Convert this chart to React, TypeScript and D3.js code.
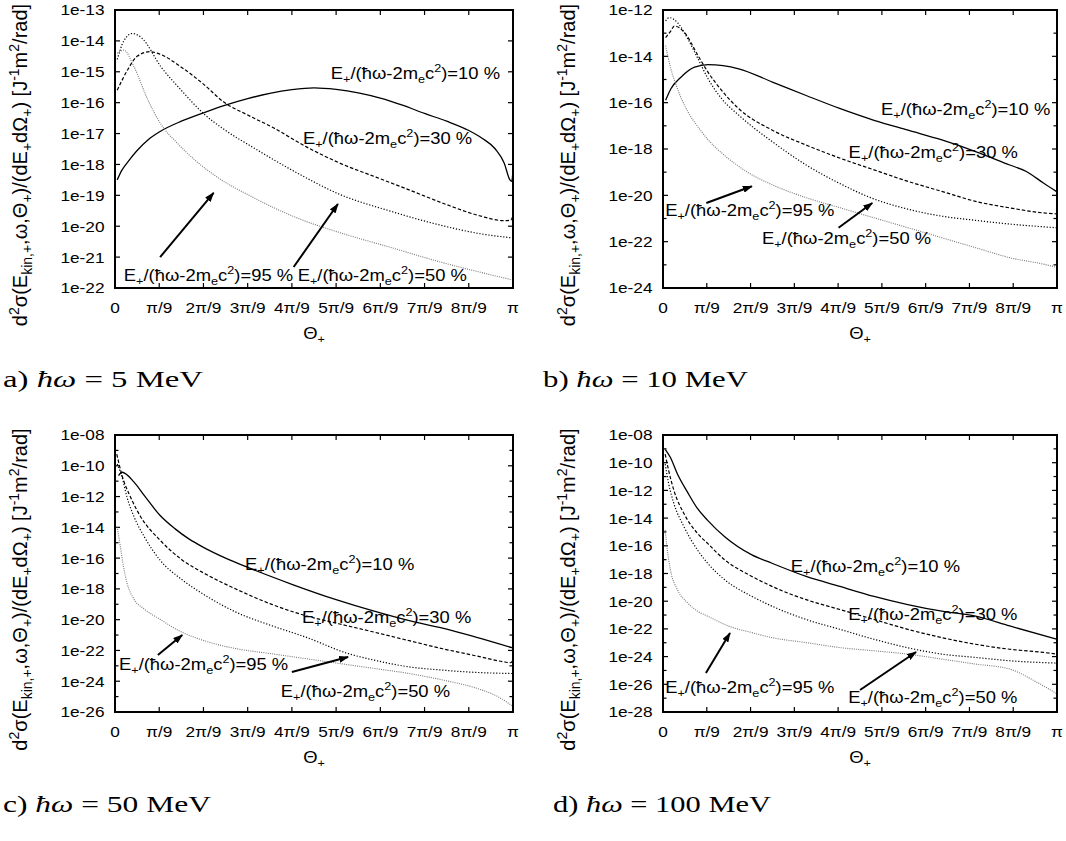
import React from "react";
import * as d3 from "d3";

type Pt = [number, number];

// ---------- data ----------
const THETA_TICK_LABELS = ["0", "π/9", "2π/9", "3π/9", "4π/9", "5π/9", "6π/9", "7π/9", "8π/9", "π"];
const SHARE_LABELS = ["10 %", "30 %", "50 %", "95 %"];
const PANEL_TAGS = ["a)", "b)", "c)", "d)"];
const PHOTON_ENERGIES = ["5", "10", "50", "100"];
const Y_EXP_RANGES: Pt[] = [[-22, -13], [-24, -12], [-26, -8], [-28, -8]];
const Y_LABEL_STEPS = [1, 2, 2, 2];

// [Θ in units of π/9, log10 d²σ]
// a) ħω = 5 MeV
const a10: Pt[] = [[0.05, -18.5], [0.15, -18.2], [0.3, -17.9], [0.5, -17.55], [0.75, -17.2], [1, -16.95], [1.5, -16.6], [2, -16.33], [2.5, -16.08], [3, -15.87], [3.5, -15.7], [4, -15.58], [4.5, -15.52], [5, -15.57], [5.5, -15.68], [6, -15.85], [6.5, -16.08], [7, -16.35], [7.5, -16.6], [8, -16.9], [8.3, -17.15], [8.6, -17.5], [8.8, -17.95], [8.93, -18.5], [8.97, -18.55], [9, -18.2]];
const a30: Pt[] = [[0.05, -15.6], [0.3, -14.9], [0.5, -14.5], [0.78, -14.35], [1, -14.42], [1.5, -14.85], [2, -15.4], [2.46, -15.98], [3, -16.4], [3.55, -16.79], [4.34, -17.44], [5.12, -17.98], [5.9, -18.41], [6.68, -18.84], [7.46, -19.28], [8.24, -19.66], [8.79, -19.82], [8.95, -19.8], [9, -19.65]];
const a50: Pt[] = [[0.05, -14.6], [0.2, -14.0], [0.39, -13.76], [0.6, -13.9], [1.04, -14.84], [1.5, -15.6], [2, -16.35], [2.5, -16.9], [3.11, -17.44], [4.15, -18.3], [5.05, -18.95], [6.2, -19.5], [7.26, -19.93], [8.29, -20.25], [9, -20.38]];
const a95: Pt[] = [[0.05, -14.4], [0.2, -14.3], [0.43, -14.84], [0.74, -15.9], [1.04, -16.7], [1.4, -17.3], [1.8, -17.85], [2.3, -18.4], [3.1, -19.05], [4.15, -19.75], [5.18, -20.25], [6.22, -20.68], [7.26, -21.12], [8.29, -21.5], [9, -21.74]];

// b) ħω = 10 MeV
const b10: Pt[] = [[0.06, -15.9], [0.18, -15.4], [0.41, -14.9], [0.72, -14.47], [1.03, -14.36], [1.73, -14.54], [2.5, -15.11], [3.27, -15.69], [4.05, -16.26], [4.82, -16.76], [5.6, -17.19], [6.37, -17.61], [7.14, -18.11], [7.92, -18.69], [8.3, -18.97], [8.69, -19.47], [9, -19.85]];
const b30: Pt[] = [[0.06, -13.19], [0.18, -12.9], [0.26, -12.69], [0.49, -12.97], [0.8, -13.97], [1.03, -14.69], [1.34, -15.47], [1.73, -16.26], [2.5, -17.19], [3.27, -17.83], [4.05, -18.4], [4.82, -18.9], [5.6, -19.4], [6.37, -19.83], [7.14, -20.26], [7.92, -20.54], [8.69, -20.76], [9, -20.8]];
const b50: Pt[] = [[0.06, -12.47], [0.14, -12.33], [0.33, -12.54], [0.57, -13.26], [0.8, -14.11], [1.03, -14.97], [1.34, -15.83], [1.73, -16.54], [2.5, -17.69], [3.27, -18.69], [4.05, -19.5], [4.74, -20.1], [5.6, -20.6], [6.37, -20.9], [7.14, -21.08], [7.92, -21.24], [9, -21.4]];
const b95: Pt[] = [[0.06, -13.54], [0.18, -14.54], [0.33, -15.4], [0.57, -16.4], [0.8, -17.05], [1.03, -17.6], [1.42, -18.3], [1.73, -18.75], [2, -19.08], [2.5, -19.55], [3.27, -20.1], [4.05, -20.54], [4.82, -20.97], [5.6, -21.4], [6.37, -21.83], [7.14, -22.26], [7.92, -22.69], [8.69, -22.97], [9, -23.11]];

// c) ħω = 50 MeV
const c10: Pt[] = [[0.08, -10.64], [0.16, -10.42], [0.43, -11.06], [0.66, -11.92], [1.01, -13.2], [1.36, -14.1], [1.67, -14.75], [2, -15.3], [2.5, -16.0], [3, -16.6], [4, -17.7], [5, -18.7], [5.86, -19.45], [6.63, -20.05], [7.41, -20.55], [8.18, -21.15], [9, -21.84]];
const c30: Pt[] = [[0.04, -9.24], [0.16, -10.64], [0.35, -12.03], [0.58, -13.31], [1.01, -14.81], [1.51, -16.1], [2, -16.96], [2.75, -18.03], [3.53, -18.99], [4.31, -19.74], [5.08, -20.28], [5.86, -20.81], [6.63, -21.35], [7.41, -21.89], [8.18, -22.36], [8.81, -22.75], [8.95, -22.8], [9, -22.6]];
const c50: Pt[] = [[0.05, -9.89], [0.16, -10.74], [0.27, -12.03], [0.43, -13.31], [0.66, -14.6], [1.01, -16.1], [1.51, -17.39], [2, -18.35], [2.75, -19.53], [3.53, -20.38], [4.31, -21.13], [5.28, -22.21], [5.86, -22.63], [6.63, -23.06], [7.41, -23.28], [8.18, -23.43], [9, -23.5]];
const c95: Pt[] = [[0.05, -13.96], [0.12, -15.24], [0.19, -16.53], [0.27, -17.6], [0.43, -18.67], [0.66, -19.31], [1.01, -19.96], [1.51, -20.81], [2, -21.35], [2.75, -21.89], [3.53, -22.21], [4.31, -22.53], [5.08, -22.85], [5.86, -23.17], [6.63, -23.49], [7.41, -23.92], [8.18, -24.46], [8.65, -24.99], [9, -25.63]];

// d) ħω = 100 MeV
const d10: Pt[] = [[0.05, -9.03], [0.17, -9.62], [0.33, -10.82], [0.56, -12.13], [0.79, -13.32], [1.02, -14.16], [1.41, -15.35], [2.03, -16.66], [2.49, -17.26], [3.27, -18.21], [4.04, -18.93], [4.82, -19.65], [5.59, -20.24], [6.37, -20.72], [7.14, -21.08], [7.92, -21.79], [9, -22.75]];
const d30: Pt[] = [[0.05, -9.38], [0.13, -10.58], [0.25, -12.01], [0.48, -13.68], [0.79, -15.11], [1.02, -15.83], [1.41, -17.02], [2.03, -18.21], [2.49, -18.93], [3.27, -19.89], [4.04, -20.6], [4.82, -21.32], [5.59, -22.03], [6.37, -22.63], [7.14, -23.11], [7.92, -23.47], [8.69, -23.7], [9, -23.82]];
const d50: Pt[] = [[0.05, -10.1], [0.13, -11.53], [0.25, -12.96], [0.48, -14.63], [0.79, -16.31], [1.02, -17.26], [1.41, -18.45], [2.03, -19.65], [2.49, -20.36], [3.27, -21.32], [4.04, -22.03], [4.82, -22.75], [5.75, -23.47], [6.37, -23.82], [7.14, -24.06], [7.92, -24.3], [9, -24.47]];
const d95: Pt[] = [[0.05, -14.87], [0.09, -16.07], [0.17, -17.74], [0.33, -19.17], [0.56, -20.12], [0.79, -20.72], [1.02, -21.08], [1.49, -21.79], [2.03, -22.27], [2.49, -22.63], [3.27, -22.99], [4.04, -23.35], [4.82, -23.58], [5.59, -23.82], [6.37, -24.18], [7.14, -24.54], [7.92, -24.9], [8.54, -25.85], [9, -26.69]];

const SERIES = [[a10, a30, a50, a95], [b10, b30, b50, b95], [c10, c30, c50, c95], [d10, d30, d50, d95]];

// label anchors (data coords), order: 10 %, 30 %, 50 %, 95 %
const NOTE_ANCHORS: Pt[][] = [
  [[4.88, -15.23], [4.25, -17.34], [4.13, -21.77], [0.2, -21.77]],
  [[4.98, -16.53], [4.24, -18.39], [2.26, -22.1], [0.05, -20.89]],
  [[2.94, -16.77], [4.23, -20.22], [3.75, -25.02], [0.09, -23.27]],
  [[2.92, -17.89], [4.23, -21.36], [4.23, -27.35], [0.05, -26.63]],
];
// arrows (data coords): [from, to] for 95 % and 50 %
const ARROWS: [Pt, Pt][][] = [
  [[[1.02, -21.0], [2.23, -18.92]], [[4.04, -21.32], [5.04, -19.28]]],
  [[[0.99, -20.33], [2.03, -19.61]], [[4.01, -21.4], [4.78, -20.33]]],
  [[[0.97, -22.3], [1.52, -21.0]], [[4.0, -23.4], [5.27, -22.43]]],
  [[[0.98, -25.18], [1.53, -22.3]], [[4.5, -26.41], [5.78, -23.67]]],
];

// ---------- layout & style ----------
const W = 1066;
const H = 841;
const FRAMES = [
  { l: 115, r: 513, t: 10, b: 288 },
  { l: 663, r: 1057, t: 10, b: 288 },
  { l: 115, r: 513, t: 435, b: 712 },
  { l: 663, r: 1057, t: 435, b: 712 },
];
const CAPTIONS = [
  { x: 3, y: 387, w: 200 },
  { x: 543, y: 387, w: 205 },
  { x: 3, y: 812, w: 208 },
  { x: 553, y: 812, w: 218 },
];
const SANS = "'Liberation Sans', Arial, Helvetica, sans-serif";
const SERIF = "'Liberation Serif', 'Times New Roman', serif";
const STYLES = [
  { dash: undefined, color: "#000", w: 1.3 },
  { dash: "3.5,2", color: "#000", w: 1.2 },
  { dash: "1.2,1.8", color: "#000", w: 1.2 },
  { dash: "1,1.2", color: "#777", w: 1.1 },
];
const SX = 1.15;
const NOTE_SX = 1.15;

function STxt(props: { x: number; y: number; anchor?: string; size?: number; dy?: string; children: React.ReactNode }) {
  const { x, y, anchor = "start", size = 15, dy, children } = props;
  return (
    <g transform={`translate(${x},${y}) scale(${SX},1)`}>
      <text textAnchor={anchor} fontSize={size} dy={dy} fontFamily={SANS} fill="#000">
        {children}
      </text>
    </g>
  );
}

function Note({ x, y, pct }: { x: number; y: number; pct: string }) {
  return (
    <g transform={`translate(${x},${y}) scale(${NOTE_SX},1)`}>
      <text fontSize={16} fontFamily={SANS} fill="#000">
        E<tspan fontSize={11} dy={4}>+</tspan>
        <tspan dy={-4}>/(ħω-2m</tspan>
        <tspan fontSize={11} dy={4}>e</tspan>
        <tspan dy={-4}>c</tspan>
        <tspan fontSize={11} dy={-7}>2</tspan>
        <tspan dy={7}>)={pct}</tspan>
      </text>
    </g>
  );
}

function YLabel({ x, y }: { x: number; y: number }) {
  return (
    <text transform={`translate(${x},${y}) rotate(-90)`} textAnchor="middle" fontSize={20} fontFamily={SANS} fill="#000">
      d<tspan fontSize={14} dy={-8}>2</tspan>
      <tspan dy={8}>σ(E</tspan>
      <tspan fontSize={14} dy={5}>kin,+</tspan>
      <tspan dy={-5}>,ω,Θ</tspan>
      <tspan fontSize={14} dy={5}>+</tspan>
      <tspan dy={-5}>)/(dE</tspan>
      <tspan fontSize={14} dy={5}>+</tspan>
      <tspan dy={-5}>dΩ</tspan>
      <tspan fontSize={14} dy={5}>+</tspan>
      <tspan dy={-5}>) [J</tspan>
      <tspan fontSize={14} dy={-8}>-1</tspan>
      <tspan dy={8}>m</tspan>
      <tspan fontSize={14} dy={-8}>2</tspan>
      <tspan dy={8}>/rad]</tspan>
    </text>
  );
}

function Panel({ idx }: { idx: number }) {
  const f = FRAMES[idx];
  const [e0, e1] = Y_EXP_RANGES[idx];
  const step = Y_LABEL_STEPS[idx];
  const x = d3.scaleLinear().domain([0, Math.PI]).range([f.l, f.r]);
  const y = d3.scaleLog().domain([Math.pow(10, e0), Math.pow(10, e1)]).range([f.b, f.t]);
  const px = (p: Pt) => x((p[0] * Math.PI) / 9);
  const py = (p: Pt) => y(Math.pow(10, p[1]));
  const line = d3.line<Pt>().x(px).y(py).curve(d3.curveMonotoneX);
  const clipId = `clip${idx}`;
  const decades = d3.range(e0, e1 + 1);
  const thetaTicks = d3.range(0, 10);
  const fmt = (e: number) => `1e-${String(-e).padStart(2, "0")}`;
  const cx = (f.l + f.r) / 2;
  const cy = (f.t + f.b) / 2;
  const cap = CAPTIONS[idx];
  return (
    <g>
      <defs>
        <clipPath id={clipId}>
          <rect x={f.l} y={f.t} width={f.r - f.l} height={f.b - f.t} />
        </clipPath>
      </defs>
      {decades.map((e) => {
        const yy = y(Math.pow(10, e));
        const major = (e - e0) % step === 0;
        const len = major ? 5 : 3.5;
        return (
          <g key={`y${e}`}>
            <line x1={f.l} x2={f.l + len} y1={yy} y2={yy} stroke="#000" strokeWidth={1.2} />
            <line x1={f.r} x2={f.r - len} y1={yy} y2={yy} stroke="#000" strokeWidth={1.2} />
            {major && (
              <STxt x={f.l - 10.5} y={yy} anchor="end" dy="0.36em">
                {fmt(e)}
              </STxt>
            )}
          </g>
        );
      })}
      {thetaTicks.map((k) => {
        const xx = x((k * Math.PI) / 9);
        return (
          <g key={`x${k}`}>
            <line x1={xx} x2={xx} y1={f.b} y2={f.b - 5} stroke="#000" strokeWidth={1.2} />
            <line x1={xx} x2={xx} y1={f.t} y2={f.t + 5} stroke="#000" strokeWidth={1.2} />
            <STxt x={xx} y={f.b + 25} anchor="middle">
              {THETA_TICK_LABELS[k]}
            </STxt>
          </g>
        );
      })}
      <g clipPath={`url(#${clipId})`}>
        {SERIES[idx].map((s, i) => (
          <path
            key={i}
            d={line(s) || ""}
            fill="none"
            stroke={STYLES[i].color}
            strokeWidth={STYLES[i].w}
            strokeDasharray={STYLES[i].dash}
          />
        ))}
      </g>
      {NOTE_ANCHORS[idx].map((p, i) => (
        <Note key={i} x={px(p)} y={py(p)} pct={SHARE_LABELS[i]} />
      ))}
      {ARROWS[idx].map((a, i) => (
        <line
          key={i}
          x1={px(a[0])}
          y1={py(a[0])}
          x2={px(a[1])}
          y2={py(a[1])}
          stroke="#000"
          strokeWidth={2}
          markerEnd="url(#ahead)"
        />
      ))}
      <rect x={f.l} y={f.t} width={f.r - f.l} height={f.b - f.t} fill="none" stroke="#000" strokeWidth={2} />
      <YLabel x={f.l - 88} y={cy + 16} />
      <STxt x={cx} y={f.b + 51} anchor="middle" size={16}>
        Θ<tspan fontSize={11} dy={4}>+</tspan>
      </STxt>
      <text
        x={cap.x}
        y={cap.y}
        fontFamily={SERIF}
        fontSize={23}
        fill="#000"
        textLength={cap.w}
        lengthAdjust="spacingAndGlyphs"
        style={{ whiteSpace: "pre" }}
      >
        {PANEL_TAGS[idx] + " "}
        <tspan fontStyle="italic">ħω</tspan>
        {" = " + PHOTON_ENERGIES[idx] + " MeV"}
      </text>
    </g>
  );
}

export default function App() {
  return (
    <svg
      width={W}
      height={H}
      viewBox={`0 0 ${W} ${H}`}
      style={{ position: "absolute", left: 0, top: 0, background: "#fff" }}
    >
      <defs>
        <marker
          id="ahead"
          viewBox="0 0 10 7"
          refX={9}
          refY={3.5}
          markerWidth={10}
          markerHeight={7}
          markerUnits="userSpaceOnUse"
          orient="auto"
        >
          <path d="M0,0 L10,3.5 L0,7 z" fill="#000" />
        </marker>
      </defs>
      <rect x={0} y={0} width={W} height={H} fill="#fff" />
      {[0, 1, 2, 3].map((i) => (
        <Panel key={i} idx={i} />
      ))}
    </svg>
  );
}
